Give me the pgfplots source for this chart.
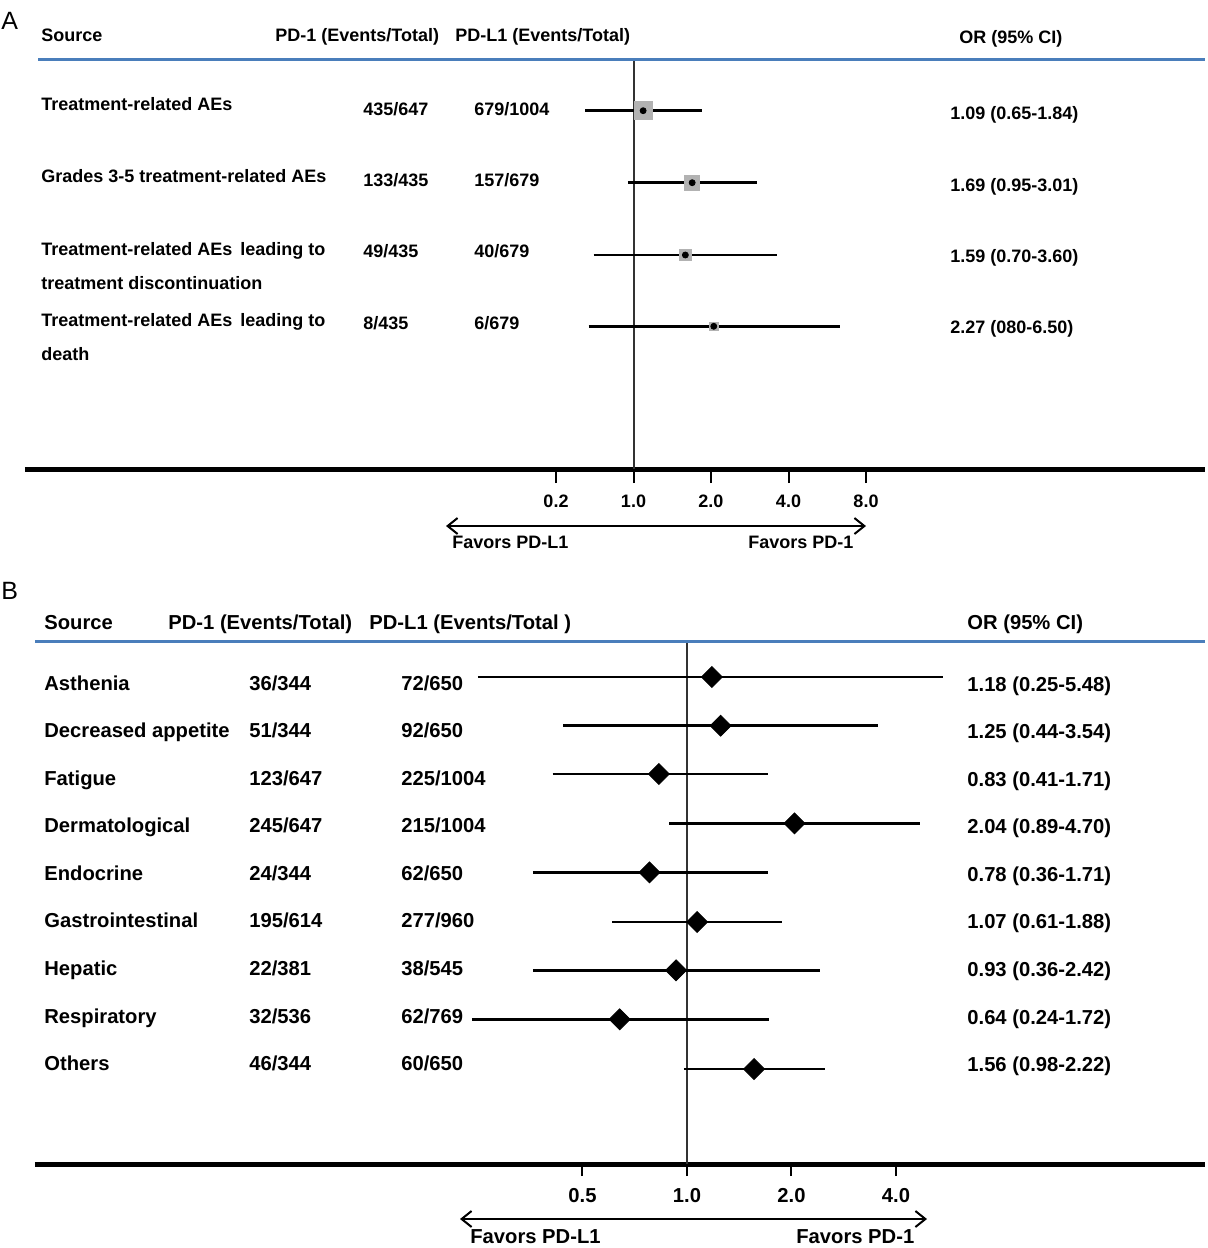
\documentclass[border=0pt]{standalone}
\usepackage{fontspec}
\setmainfont{Liberation Sans}
\usepackage{pgfplots}
\pgfplotsset{compat=1.18}
\usetikzlibrary{arrows.meta}

\definecolor{hdrblue}{RGB}{74,126,187}
\definecolor{refline}{RGB}{50,50,50}
\newcommand\fA{\fontsize{9}{10}\selectfont\bfseries}
\newcommand\fB{\fontsize{10.1}{11}\selectfont\bfseries}

\begin{document}
\begin{tikzpicture}[x=0.5pt,y=0.5pt]
\useasboundingbox (0,0) rectangle (1207,-1248);
\coordinate (originA) at (25,-469);
\coordinate (originB) at (35,-1164);

% ---------------- panel A ----------------
\begin{axis}[
    scale only axis, width=590pt, height=224.5pt,
    at={(originA)}, anchor=south west,
    xmode=log, log basis x=2,
    xmin=0.004329, xmax=165.9,
    ymin=-469, ymax=-20,
    axis x line=bottom, axis y line=none,
    x axis line style={-, line width=2.5pt, black},
    xtick={0.5,1,2,4,8},
    xticklabels={\textbf{0.2},\textbf{1.0},\textbf{2.0},\textbf{4.0},\textbf{8.0}},
    xminorticks=false,
    tick align=outside, major tick length=7pt,
    xtick style={line width=1pt, black},
    xticklabel style={font=\fA},
    xticklabel shift=2.5pt,
    clip=false,
]
\draw[refline, line width=1pt] (axis cs:1,-60) -- (axis cs:1,-469);

% 95% CI
\addplot[black, line width=1.25pt] coordinates {(0.65,-110.7) (1.84,-110.7)};
\addplot[black, line width=1.25pt] coordinates {(0.95,-182.7) (3.01,-182.7)};
\addplot[black, line width=1.25pt] coordinates {(0.70,-255) (3.60,-255)};
\addplot[black, line width=1.25pt] coordinates {(0.67,-326.3) (6.34,-326.3)};

% weight boxes
\addplot[only marks, mark=square*, mark size=4.5pt, mark options={fill=black!30, draw=black!30}] coordinates {(1.09,-110.7)};
\addplot[only marks, mark=square*, mark size=3.8pt, mark options={fill=black!30, draw=black!30}] coordinates {(1.69,-182.7)};
\addplot[only marks, mark=square*, mark size=2.8pt, mark options={fill=black!30, draw=black!30}] coordinates {(1.59,-255)};
\addplot[only marks, mark=square*, mark size=2.2pt, mark options={fill=black!30, draw=black!30}] coordinates {(2.05,-326.3)};

% point estimates
\addplot[only marks, mark=*, mark size=1.5pt, black] coordinates {
    (1.09,-110.7) (1.69,-182.7) (1.59,-255) (2.05,-326.3)
};
\end{axis}

% ---------------- panel B ----------------
\begin{axis}[
    scale only axis, width=585pt, height=282pt,
    at={(originB)}, anchor=south west,
    xmode=log, log basis x=2,
    xmin=0.01324, xmax=31.06,
    ymin=-1164, ymax=-600,
    axis x line=bottom, axis y line=none,
    x axis line style={-, line width=2.5pt, black},
    xtick={0.5,1,2,4},
    xticklabels={\textbf{0.5},\textbf{1.0},\textbf{2.0},\textbf{4.0}},
    xminorticks=false,
    tick align=outside, major tick length=6pt,
    xtick style={line width=1pt, black},
    xticklabel style={font=\fB},
    xticklabel shift=2.5pt,
    clip=false,
]
\draw[refline, line width=1pt] (axis cs:1,-642) -- (axis cs:1,-1164);

% 95% CI
\addplot[black, line width=1.25pt] coordinates {(0.25,-677) (5.48,-677)};
\addplot[black, line width=1.25pt] coordinates {(0.44,-725.7) (3.54,-725.7)};
\addplot[black, line width=1.25pt] coordinates {(0.41,-774) (1.71,-774)};
\addplot[black, line width=1.25pt] coordinates {(0.89,-823.3) (4.70,-823.3)};
\addplot[black, line width=1.25pt] coordinates {(0.36,-872.3) (1.71,-872.3)};
\addplot[black, line width=1.25pt] coordinates {(0.61,-922) (1.88,-922)};
\addplot[black, line width=1.25pt] coordinates {(0.36,-970.3) (2.42,-970.3)};
\addplot[black, line width=1.25pt] coordinates {(0.24,-1019.3) (1.72,-1019.3)};
\addplot[black, line width=1.25pt] coordinates {(0.98,-1069) (2.50,-1069)};

% point estimates
\addplot[only marks, mark=square*, mark size=3.7pt, mark options={rotate=45, fill=black, draw=black}] coordinates {
    (1.18,-677) (1.25,-725.7) (0.83,-774) (2.04,-823.3) (0.78,-872.3)
    (1.07,-922) (0.93,-970.3) (0.64,-1019.3) (1.56,-1069)
};
\end{axis}

% ---------------- decorations and text, panel A ----------------
\node[anchor=base west, inner sep=0, font=\fontsize{12.5}{13}\selectfont] at (1,-29) {A};
\draw[hdrblue, line width=1.5pt] (38,-59) -- (1205,-59);

\node[anchor=base west, inner sep=0, font=\fA] at (41,-41.7) {Source};
\node[anchor=base west, inner sep=0, font=\fA] at (275,-41.7) {PD-1 (Events/Total)};
\node[anchor=base west, inner sep=0, font=\fA] at (455,-41.7) {PD-L1 (Events/Total)};
\node[anchor=base west, inner sep=0, font=\fA] at (959,-43) {OR (95\% CI)};

\node[anchor=base west, inner sep=0, font=\fA] at (41,-110) {Treatment-related AEs};
\node[anchor=base west, inner sep=0, font=\fA] at (363,-115) {435/647};
\node[anchor=base west, inner sep=0, font=\fA] at (474,-115) {679/1004};
\node[anchor=base west, inner sep=0, font=\fA] at (950,-119) {1.09 (0.65-1.84)};

\node[anchor=base west, inner sep=0, font=\fA] at (41,-182) {Grades 3-5 treatment-related AEs};
\node[anchor=base west, inner sep=0, font=\fA] at (363,-186.5) {133/435};
\node[anchor=base west, inner sep=0, font=\fA] at (474,-186.5) {157/679};
\node[anchor=base west, inner sep=0, font=\fA] at (950,-191) {1.69 (0.95-3.01)};

\node[anchor=base west, inner sep=0, font=\fA] at (41,-255) {Treatment-related AEs\,\ leading to};
\node[anchor=base west, inner sep=0, font=\fA] at (41,-289.3) {treatment discontinuation};
\node[anchor=base west, inner sep=0, font=\fA] at (363,-257.3) {49/435};
\node[anchor=base west, inner sep=0, font=\fA] at (474,-257.3) {40/679};
\node[anchor=base west, inner sep=0, font=\fA] at (950,-262.5) {1.59 (0.70-3.60)};

\node[anchor=base west, inner sep=0, font=\fA] at (41,-326) {Treatment-related AEs\,\ leading to};
\node[anchor=base west, inner sep=0, font=\fA] at (41,-360) {death};
\node[anchor=base west, inner sep=0, font=\fA] at (363,-329.3) {8/435};
\node[anchor=base west, inner sep=0, font=\fA] at (474,-329.3) {6/679};
\node[anchor=base west, inner sep=0, font=\fA] at (950,-333.5) {2.27 (080-6.50)};

\draw[{Straight Barb[length=5pt,width=8pt]}-{Straight Barb[length=5pt,width=8pt]}, line width=1pt] (446,-526) -- (866,-526);
\node[anchor=base west, inner sep=0, font=\fA] at (452,-548) {Favors PD-L1};
\node[anchor=base west, inner sep=0, font=\fA] at (748,-548) {Favors PD-1};

% ---------------- decorations and text, panel B ----------------
\node[anchor=base west, inner sep=0, font=\fontsize{12.5}{13}\selectfont] at (1,-599) {B};
\draw[hdrblue, line width=1.5pt] (35,-641.5) -- (1205,-641.5);

\node[anchor=base west, inner sep=0, font=\fB] at (44,-629) {Source};
\node[anchor=base west, inner sep=0, font=\fB] at (168,-629) {PD-1 (Events/Total)};
\node[anchor=base west, inner sep=0, font=\fB] at (369,-629) {PD-L1 (Events/Total )};
\node[anchor=base west, inner sep=0, font=\fB] at (967,-629) {OR (95\% CI)};

\foreach \y/\name/\pda/\pdl/\orci in {
    690/Asthenia/36\slash344/72\slash650/1.18 (0.25-5.48),
    737/Decreased appetite/51\slash344/92\slash650/1.25 (0.44-3.54),
    785/Fatigue/123\slash647/225\slash1004/0.83 (0.41-1.71),
    832/Dermatological/245\slash647/215\slash1004/2.04 (0.89-4.70),
    880/Endocrine/24\slash344/62\slash650/0.78 (0.36-1.71),
    927/Gastrointestinal/195\slash614/277\slash960/1.07 (0.61-1.88),
    975/Hepatic/22\slash381/38\slash545/0.93 (0.36-2.42),
    1023/Respiratory/32\slash536/62\slash769/0.64 (0.24-1.72),
    1070/Others/46\slash344/60\slash650/1.56 (0.98-2.22)} {
  \node[anchor=base west, inner sep=0, font=\fB] at (44,-\y) {\name};
  \node[anchor=base west, inner sep=0, font=\fB] at (249,-\y) {\pda};
  \node[anchor=base west, inner sep=0, font=\fB] at (401,-\y) {\pdl};
  \node[anchor=base west, inner sep=0, font=\fB] at (967,-\y-1) {\orci};
}

\draw[{Straight Barb[length=5pt,width=8pt]}-{Straight Barb[length=5pt,width=8pt]}, line width=1pt] (460,-1219) -- (927,-1219);
\node[anchor=base west, inner sep=0, font=\fB] at (470,-1243) {Favors PD-L1};
\node[anchor=base west, inner sep=0, font=\fB] at (796,-1243) {Favors PD-1};
\end{tikzpicture}
\end{document}
